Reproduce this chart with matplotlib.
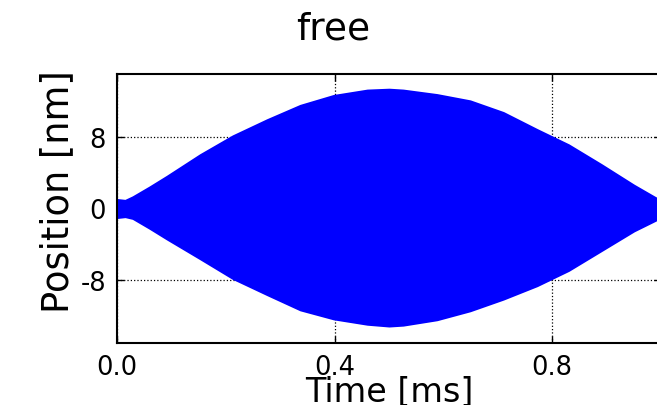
import matplotlib
matplotlib.use("Agg")
import matplotlib.pyplot as plt

# envelope of the oscillation
time_ms = [0.0, 0.015, 0.029, 0.06, 0.092, 0.153, 0.213, 0.276, 0.337, 0.398,
           0.46, 0.50, 0.526, 0.588, 0.649, 0.71, 0.772, 0.83, 0.89, 0.95, 0.99, 1.0]
upper_nm = [1.0, 0.9, 1.3, 2.4, 3.6, 6.0, 8.1, 9.9, 11.5, 12.6,
            13.2, 13.3, 13.2, 12.7, 12.0, 10.7, 8.8, 7.1, 4.9, 2.6, 1.2, 1.0]
lower_nm = [-1.0, -0.9, -1.1, -2.2, -3.4, -5.6, -7.8, -9.6, -11.3, -12.3,
            -12.9, -13.1, -13.0, -12.4, -11.4, -10.1, -8.6, -6.9, -4.7, -2.5, -1.3, -1.0]

xticks = [0.0, 0.4, 0.8]
yticks = [-8, 0, 8]

fig = plt.figure(figsize=(6.57, 4.06), dpi=100)
ax = fig.add_axes([117 / 657, 62 / 406, 544 / 657, 269 / 406])

ax.fill_between(time_ms, lower_nm, upper_nm, color="#0000ff", linewidth=1.5,
                edgecolor="#0000ff", zorder=2)

ax.set_xlim(0, 1.0)
ax.set_ylim(-15, 15)
ax.set_xticks(xticks)
ax.set_xticklabels(["0.0", "0.4", "0.8"])
ax.set_yticks(yticks)
ax.set_yticklabels(["-8", "0", "8"])
ax.grid(True, color="black", linestyle=":", linewidth=0.9)
ax.tick_params(direction="in", length=5, width=1, labelsize=18.5, pad=8,
               top=True, right=True)
for s in ax.spines.values():
    s.set_linewidth(1.5)

ax.set_xlabel("Time [ms]", fontsize=24, labelpad=-4)
ax.set_ylabel("Position [nm]", fontsize=26.5)
ax.yaxis.set_label_coords(-0.075, 0.565)

fig.text(333 / 657, 1 - 40 / 406, "free", fontsize=27, ha="center", va="baseline")

fig.savefig("out.png", dpi=100)
